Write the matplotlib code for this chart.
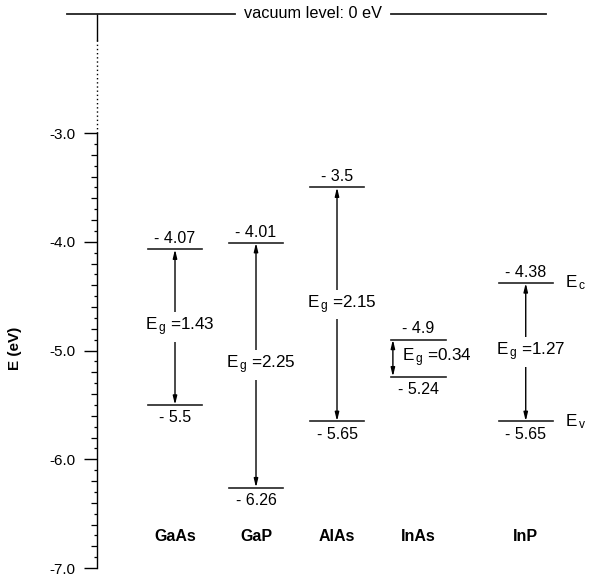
import numpy as np
import matplotlib.pyplot as plt
from matplotlib.ticker import FixedLocator, FuncFormatter

plt.rcParams["font.family"] = ["Liberation Sans", "DejaVu Sans"]
plt.rcParams["mathtext.fontset"] = "custom"
plt.rcParams["mathtext.rm"] = "Liberation Sans"
plt.rcParams["mathtext.it"] = "Liberation Sans:italic"

# band edges (eV, relative to vacuum level)
materials = ["GaAs", "GaP", "AlAs", "InAs", "InP"]
e_cond = [-4.07, -4.01, -3.5, -4.9, -4.38]
e_val = [-5.5, -6.26, -5.65, -5.24, -5.65]
e_gap = [1.43, 2.25, 2.15, 0.34, 1.27]
major_ticks = [-7.0, -6.0, -5.0, -4.0, -3.0]

# layout: column centres, level half width
x_pos = [0, 1, 2, 3.006, 4.33]
half_w = 0.335
vac_y = -1.905   # where the 0 eV line sits above the axis break

fig = plt.figure(figsize=(5.9, 5.8), dpi=100)
ax = fig.add_axes([97 / 590, 12 / 580, 493 / 590, 568 / 580])
ax.set_xlim(-0.963, -0.963 + 493 / 81)
ax.set_ylim(-7.0, -7.0 + 568 / 108.75)

for s in ["top", "right", "bottom"]:
    ax.spines[s].set_visible(False)
ax.spines["left"].set_bounds(-7.0, -3.0)
ax.spines["left"].set_linewidth(1.0)
ax.set_xticks([])

minor = [round(-7.0 + 0.1 * k, 1) for k in range(41) if k % 10 != 0]
ax.yaxis.set_major_locator(FixedLocator(major_ticks))
ax.yaxis.set_minor_locator(FixedLocator(minor))
ax.yaxis.set_major_formatter(FuncFormatter(lambda v, _: f"{v:.1f}"))
ax.tick_params(axis="y", which="major", length=9.5, width=1.0, labelsize=11, pad=6)
ax.tick_params(axis="y", which="minor", length=2.2, width=0.9)
for loc, t in zip(ax.yaxis.get_minorticklocs(), ax.yaxis.get_minor_ticks()):
    if round(loc * 10) % 2 == 0:
        t.tick1line.set_markersize(4.5)
ax.set_ylabel("E (eV)", fontsize=11, fontweight="bold")
ax.yaxis.set_label_coords(-0.152, (580 - 12 - 348) / 568)

# axis continuation up to the vacuum level
x0 = ax.get_xlim()[0]
ax.plot([x0, x0], [vac_y, -2.145], color="black", lw=1.0, clip_on=False)
ax.plot([x0, x0], [-2.145, -3.0], color="black", lw=1.0, ls=(0, (1, 2)), clip_on=False)

# vacuum level
ax.plot([-1.333, 0.741], [vac_y, vac_y], color="#222222", lw=1.3, clip_on=False)
ax.plot([2.667, 4.58], [vac_y, vac_y], color="#222222", lw=1.3, clip_on=False)
ax.text(1.70, vac_y, "vacuum level: 0 eV", ha="center", va="center", fontsize=11.7)

arrow_style = dict(arrowstyle="<|-|>,head_length=0.5,head_width=0.12",
                   color="black", lw=1.0, shrinkA=0, shrinkB=0)

for i, name in enumerate(materials):
    xc = x_pos[i]
    ec, ev = e_cond[i], e_val[i]
    ax.plot([xc - half_w, xc + half_w], [ec, ec], color="#222222", lw=1.2)
    ax.plot([xc - half_w, xc + half_w], [ev, ev], color="#222222", lw=1.2)
    ax.text(xc, ec + 0.03, f"- {abs(ec):g}", ha="center", va="bottom", fontsize=11.5)
    ax.text(xc, ev - 0.05, f"- {abs(ev):g}", ha="center", va="top", fontsize=11.5)
    ax.text(xc, -6.706, name, ha="center", va="center", fontsize=11.5, fontweight="bold")

    label = r"E$_{\,{\rm g}}$ =" + f"{e_gap[i]:.2f}"
    mid = (ec + ev) / 2
    if name == "InAs":
        xa = xc - 0.316
        ax.annotate("", xy=(xa, ec), xytext=(xa, ev), arrowprops=arrow_style)
        ax.text(xa + 0.11, mid, label, ha="left", va="center", fontsize=12.3)
    else:
        ax.annotate("", xy=(xc, ec), xytext=(xc, ev), arrowprops=arrow_style)
        ax.text(xc + 0.06, mid, label, ha="center", va="center", fontsize=12.3,
                bbox=dict(facecolor="white", edgecolor="none", pad=2.5))

# band edge names beside InP
ax.text(x_pos[-1] + 0.49, e_cond[-1], r"E$_{\,{\rm c}}$", ha="left", va="center", fontsize=12.3)
ax.text(x_pos[-1] + 0.49, e_val[-1], r"E$_{\,{\rm v}}$", ha="left", va="center", fontsize=12.3)

fig.savefig("out.png", dpi=100)
